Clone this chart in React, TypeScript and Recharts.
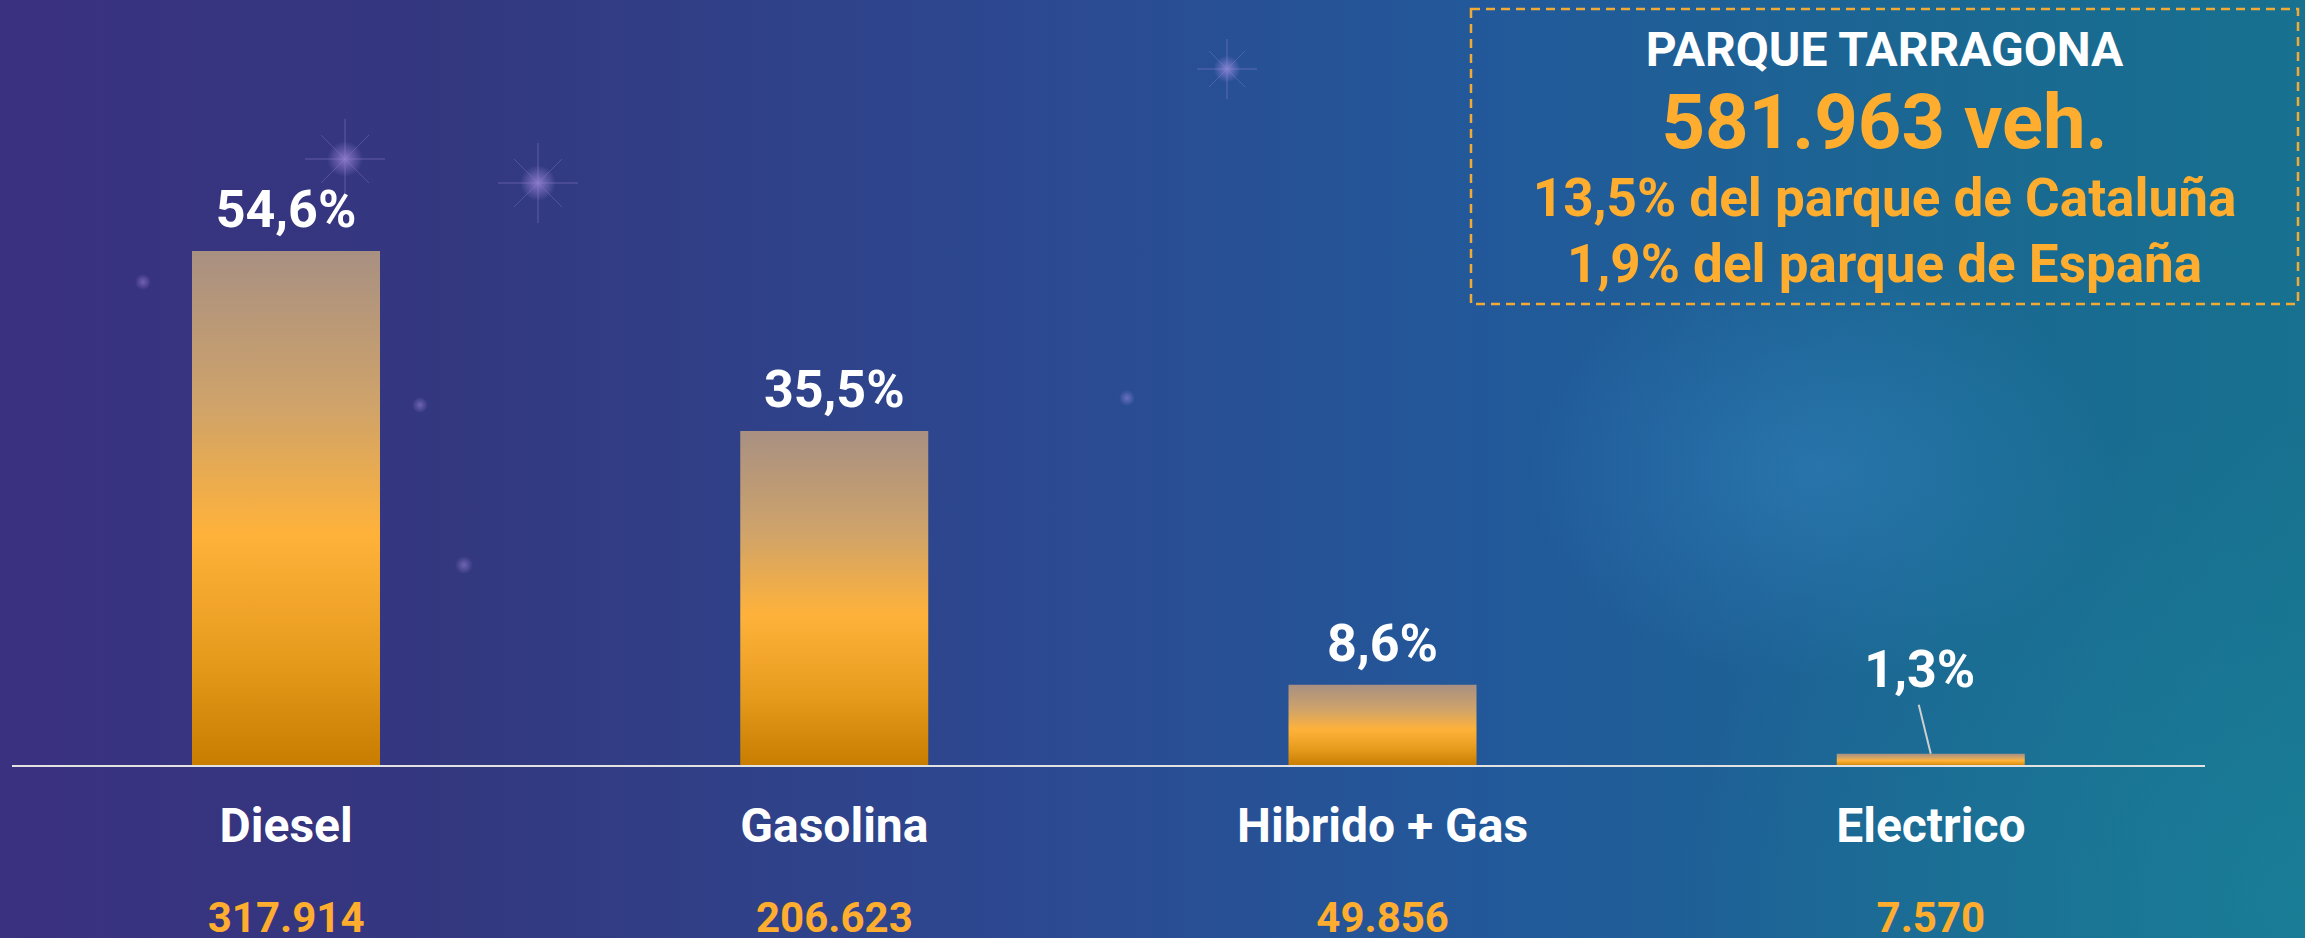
import React from 'react';
import { BarChart, Bar, XAxis, YAxis, LabelList } from 'recharts';

const categories = ['Diesel', 'Gasolina', 'Hibrido + Gas', 'Electrico'];
const shares = [54.6, 35.5, 8.6, 1.3];
const vehicles = [317914, 206623, 49856, 7570];
const boxTitle = 'PARQUE TARRAGONA';
const boxTotal = '581.963 veh.';
const boxLines = ['13,5% del parque de Cataluña', '1,9% del parque de España'];

const data = categories.map((name, i) => ({ name, share: shares[i], vehicles: vehicles[i] }));

const W = 2305;
const H = 938;
const ORANGE = '#ffad2f';
const FONT = 'Roboto, "Noto Sans", sans-serif';

const fmtPct = (v: number) => v.toFixed(1).replace('.', ',') + '%';
const fmtNum = (v: number) => String(v).replace(/\B(?=(\d{3})+(?!\d))/g, '.');

const CategoryTick = (props: any) => {
  const { x, y, payload } = props;
  const d = data[payload.index] || data.find((r) => r.name === payload.value);
  return (
    <g>
      <text x={x} y={y + 76} textAnchor="middle" fill="#ffffff" fontSize={48} fontWeight={700} fontFamily={FONT}>
        {payload.value}
      </text>
      <text x={x} y={y + 166} textAnchor="middle" fill={ORANGE} fontSize={42} fontWeight={700} fontFamily={FONT}>
        {d ? fmtNum(d.vehicles) : ''}
      </text>
    </g>
  );
};

const PctLabel = (props: any) => {
  const { x, y, width, value } = props;
  const cx = Number(x) + Number(width) / 2;
  const top = Number(y);
  if (Number(value) < 3) {
    return (
      <g>
        <line x1={cx - 12} y1={top - 49} x2={cx} y2={top} stroke="#cfcfcf" strokeWidth={2} />
        <text x={cx - 11} y={top - 67} textAnchor="middle" fill="#ffffff" fontSize={52} fontWeight={700} fontFamily={FONT}>
          {fmtPct(Number(value))}
        </text>
      </g>
    );
  }
  return (
    <text x={cx} y={top - 24} textAnchor="middle" fill="#ffffff" fontSize={52} fontWeight={700} fontFamily={FONT}>
      {fmtPct(Number(value))}
    </text>
  );
};

const Sparkle = ({ cx, cy, r }: { cx: number; cy: number; r: number }) => (
  <g opacity={0.7}>
    <circle cx={cx} cy={cy} r={r * 0.45} fill="url(#spark)" />
    <line x1={cx - r} y1={cy} x2={cx + r} y2={cy} stroke="#b89cf0" strokeWidth={1} opacity={0.5} />
    <line x1={cx} y1={cy - r} x2={cx} y2={cy + r} stroke="#b89cf0" strokeWidth={1} opacity={0.5} />
    <line x1={cx - r * 0.6} y1={cy - r * 0.6} x2={cx + r * 0.6} y2={cy + r * 0.6} stroke="#b89cf0" strokeWidth={1} opacity={0.35} />
    <line x1={cx - r * 0.6} y1={cy + r * 0.6} x2={cx + r * 0.6} y2={cy - r * 0.6} stroke="#b89cf0" strokeWidth={1} opacity={0.35} />
  </g>
);

export default function App() {
  const boxX = 1471;
  const boxY = 9;
  const boxW = 827;
  const boxH = 295;
  const bcx = boxX + boxW / 2;
  return (
    <div
      style={{
        position: 'absolute',
        left: 0,
        top: 0,
        width: W,
        height: H,
        overflow: 'hidden',
        fontFamily: FONT,
        background:
          'radial-gradient(ellipse 420px 300px at 1820px 470px, rgba(70,160,230,0.28), rgba(70,160,230,0) 70%),' +
          'radial-gradient(ellipse 900px 700px at 2305px 900px, rgba(30,140,160,0.45), rgba(30,140,160,0) 70%),' +
          'linear-gradient(90deg, #3a3180 0%, #33387f 20%, #2c4991 45%, #22599a 65%, #1a6892 85%, #17718f 100%)',
      }}
    >
      <svg width={W} height={H} style={{ position: 'absolute', left: 0, top: 0 }}>
        <defs>
          <radialGradient id="spark" cx="50%" cy="50%" r="50%">
            <stop offset="0%" stopColor="#c9a7ff" stopOpacity={0.8} />
            <stop offset="100%" stopColor="#c9a7ff" stopOpacity={0} />
          </radialGradient>
        </defs>
        <Sparkle cx={345} cy={159} r={40} />
        <Sparkle cx={538} cy={183} r={40} />
        <Sparkle cx={1227} cy={69} r={30} />
        <circle cx={143} cy={282} r={8} fill="url(#spark)" opacity={0.5} />
        <circle cx={464} cy={565} r={9} fill="url(#spark)" opacity={0.5} />
        <circle cx={420} cy={405} r={8} fill="url(#spark)" opacity={0.5} />
        <circle cx={1127} cy={398} r={8} fill="url(#spark)" opacity={0.5} />
      </svg>
      <BarChart
        width={W}
        height={H}
        data={data}
        margin={{ top: 100, right: 100, bottom: 0, left: 12 }}
        style={{ position: 'absolute', left: 0, top: 0 }}
      >
        <defs>
          <linearGradient id="barGrad" x1="0" y1="0" x2="0" y2="1">
            <stop offset="0%" stopColor="#a89082" />
            <stop offset="30%" stopColor="#cfa36a" />
            <stop offset="55%" stopColor="#ffb23a" />
            <stop offset="80%" stopColor="#e69a1c" />
            <stop offset="100%" stopColor="#c87c00" />
          </linearGradient>
        </defs>
        <YAxis hide domain={[0, 70.6]} type="number" />
        <XAxis
          dataKey="name"
          height={172}
          axisLine={{ stroke: '#e2e2e2', strokeWidth: 2 }}
          tickLine={false}
          tickSize={0}
          tickMargin={0}
          interval={0}
          tick={<CategoryTick />}
        />
        <Bar dataKey="share" fill="url(#barGrad)" barSize={188} isAnimationActive={false}>
          <LabelList dataKey="share" content={<PctLabel />} />
        </Bar>
      </BarChart>
      <svg width={W} height={H} style={{ position: 'absolute', left: 0, top: 0, pointerEvents: 'none' }}>
        <rect x={boxX} y={boxY} width={boxW} height={boxH} fill="none" stroke="#f2aa35" strokeWidth={2.5} strokeDasharray="9 6" />
        <text x={bcx} y={66} textAnchor="middle" fill="#ffffff" fontSize={48} fontWeight={700} fontFamily={FONT}>
          {boxTitle}
        </text>
        <text x={bcx} y={148} textAnchor="middle" fill={ORANGE} fontSize={76} fontWeight={700} fontFamily={FONT}>
          {boxTotal}
        </text>
        <text x={bcx} y={216} textAnchor="middle" fill={ORANGE} fontSize={53} fontWeight={700} fontFamily={FONT}>
          {boxLines[0]}
        </text>
        <text x={bcx} y={282} textAnchor="middle" fill={ORANGE} fontSize={53} fontWeight={700} fontFamily={FONT}>
          {boxLines[1]}
        </text>
      </svg>
    </div>
  );
}
